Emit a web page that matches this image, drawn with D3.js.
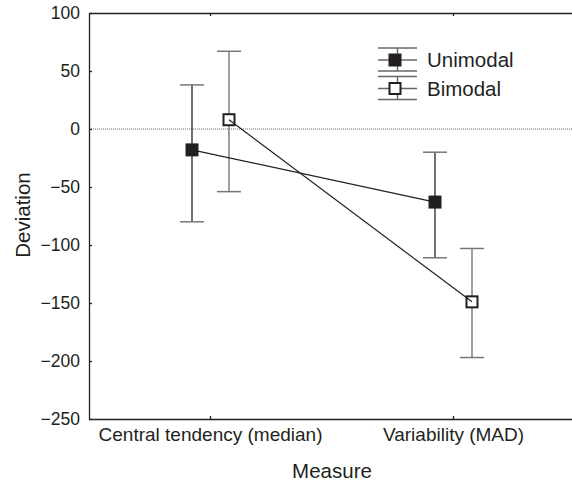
<!DOCTYPE html>
<html>
<head>
<meta charset="utf-8">
<script src="https://cdn.jsdelivr.net/npm/d3@7"></script>
<style>
  body { margin: 0; background: #fff; }
  svg { display: block; font-family: "Liberation Sans", Arial, sans-serif; }
</style>
</head>
<body>
<figure id="chart" style="margin:0"></figure>
<script>
// values
const categories = ["Central tendency (median)", "Variability (MAD)"];
const series = ["Unimodal", "Bimodal"];
const unimodalMean = [-18, -63];
const unimodalLow = [-80, -111];
const unimodalHigh = [38, -20];
const bimodalMean = [8, -149];
const bimodalLow = [-54, -197];
const bimodalHigh = [67, -103];
const yTicks = [100, 50, 0, -50, -100, -150, -200, -250];

const width = 572, height = 484;
const mLeft = 89, mTop = 13, mBottom = 419, mRight = 575;
const ink = "#231f20";

const svg = d3.select("figure#chart")
  .append("svg")
  .attr("width", width)
  .attr("height", height);

const x = d3.scaleBand()
  .domain(categories)
  .range([mLeft, mRight])
  .padding(0);

const offset = d3.scaleBand()
  .domain(series)
  .range([-37, 37]);

const y = d3.scaleLinear()
  .domain([-250, 100])
  .range([mBottom, mTop]);

const cx = (c, s) => x(c) + x.bandwidth() / 2 + offset(s) + offset.bandwidth() / 2;

const data = series.map((s, i) => ({
  name: s,
  filled: i === 0,
  points: categories.map((c, j) => ({
    cat: c,
    mean: i === 0 ? unimodalMean[j] : bimodalMean[j],
    low: i === 0 ? unimodalLow[j] : bimodalLow[j],
    high: i === 0 ? unimodalHigh[j] : bimodalHigh[j]
  }))
}));

// zero line
svg.append("line")
  .attr("x1", mLeft).attr("x2", width)
  .attr("y1", y(0)).attr("y2", y(0))
  .attr("stroke", "#666")
  .attr("stroke-width", 1)
  .attr("stroke-dasharray", "1,1");

// axes
const yAxis = svg.append("g")
  .attr("transform", "translate(" + mLeft + ",0)")
  .call(d3.axisLeft(y).tickValues(yTicks).tickSize(-3).tickSizeOuter(0).tickPadding(9));
yAxis.selectAll("text").style("font-size", "17.5px").attr("fill", ink);

const xAxis = svg.append("g")
  .attr("transform", "translate(0," + mBottom + ")")
  .call(d3.axisBottom(x).tickSize(-3).tickSizeOuter(0).tickPadding(9));
xAxis.selectAll("text").style("font-size", "19px").attr("fill", ink);

const topAxis = svg.append("g")
  .attr("transform", "translate(0," + mTop + ")")
  .call(d3.axisTop(x).tickSize(-3).tickSizeOuter(0).tickFormat(""));

svg.selectAll(".domain, .tick line")
  .attr("stroke", ink)
  .attr("stroke-width", 1.3);

// whiskers
const marker = 13, cap = 12;
data.forEach((d, i) => {
  const g = svg.append("g");
  const vcol = i === 0 ? "#333" : "#777";
  g.selectAll("line.v")
    .data(d.points)
    .enter()
    .append("line")
    .attr("x1", p => cx(p.cat, d.name)).attr("x2", p => cx(p.cat, d.name))
    .attr("y1", p => y(p.high)).attr("y2", p => y(p.low))
    .attr("stroke", vcol).attr("stroke-width", 1.4);
  ["low", "high"].forEach(k => {
    g.selectAll("line." + k)
      .data(d.points)
      .enter()
      .append("line")
      .attr("x1", p => cx(p.cat, d.name) - cap).attr("x2", p => cx(p.cat, d.name) + cap)
      .attr("y1", p => y(p[k])).attr("y2", p => y(p[k]))
      .attr("stroke", "#777").attr("stroke-width", 1.5);
  });
});

// markers
data.forEach(d => {
  svg.append("g").selectAll("rect")
    .data(d.points)
    .enter()
    .append("rect")
    .attr("x", p => cx(p.cat, d.name) - marker / 2 + (d.filled ? 0 : 1))
    .attr("y", p => y(p.mean) - marker / 2 + (d.filled ? 0 : 1))
    .attr("width", d.filled ? marker : marker - 2)
    .attr("height", d.filled ? marker : marker - 2)
    .attr("fill", d.filled ? ink : "#fff")
    .attr("stroke", ink)
    .attr("stroke-width", d.filled ? 0 : 2);
});

// connecting lines
const line = d3.line()
  .x(p => cx(p.cat, p.s))
  .y(p => y(p.mean));
data.forEach(d => {
  svg.append("path")
    .datum(d.points.map(p => Object.assign({ s: d.name }, p)))
    .attr("d", line)
    .attr("fill", "none")
    .attr("stroke", ink)
    .attr("stroke-width", 1.2);
});

// legend
const legend = svg.append("g");
series.forEach((s, i) => {
  const cy = 60 + i * 28.5;
  const g = legend.append("g");
  [cy - 12, cy, cy + 11].forEach(yy => {
    g.append("line")
      .attr("x1", 378).attr("x2", 417)
      .attr("y1", yy).attr("y2", yy)
      .attr("stroke", "#666").attr("stroke-width", 1.4);
  });
  g.append("line")
    .attr("x1", 397.5).attr("x2", 397.5)
    .attr("y1", cy - 12).attr("y2", cy + 11)
    .attr("stroke", "#666").attr("stroke-width", 1.4);
  g.append("rect")
    .attr("x", 395 - marker / 2 + (i === 0 ? 0 : 1))
    .attr("y", cy - marker / 2 + (i === 0 ? 0 : 1))
    .attr("width", i === 0 ? marker : marker - 2)
    .attr("height", i === 0 ? marker : marker - 2)
    .attr("fill", i === 0 ? ink : "#fff")
    .attr("stroke", ink)
    .attr("stroke-width", i === 0 ? 0 : 2);
  g.append("text")
    .attr("x", 427).attr("y", cy + 7)
    .attr("fill", ink)
    .style("font-size", "20.5px")
    .text(s);
});

// axis titles
svg.append("text")
  .attr("x", (mLeft + mRight) / 2)
  .attr("y", 478)
  .attr("text-anchor", "middle")
  .attr("fill", ink)
  .style("font-size", "20.5px")
  .text("Measure");

svg.append("text")
  .attr("transform", "translate(30,215)rotate(-90)")
  .attr("text-anchor", "middle")
  .attr("fill", ink)
  .style("font-size", "20.5px")
  .text("Deviation");
</script>
</body>
</html>
